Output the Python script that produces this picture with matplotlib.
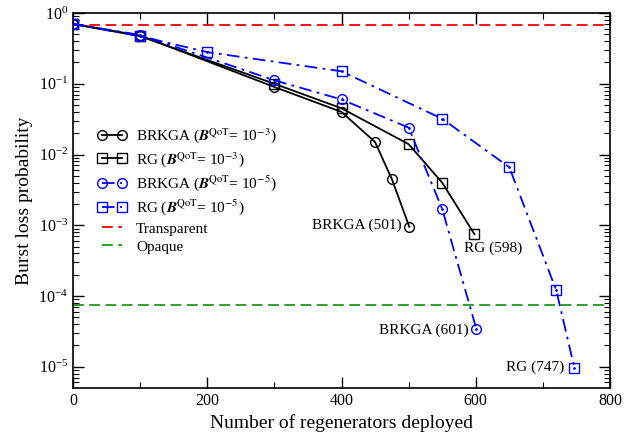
import numpy as np
import matplotlib
matplotlib.use("Agg")
import matplotlib.pyplot as plt
from matplotlib.ticker import LogLocator, MultipleLocator, NullFormatter

plt.rcParams['font.family'] = ['Liberation Serif', 'DejaVu Serif']
plt.rcParams['mathtext.fontset'] = 'stix'

# data
brkga3_x = [0, 100, 300, 400, 450, 475, 501]
brkga3_y = [0.70, 0.48, 0.090, 0.040, 0.015, 0.0045, 0.00095]
rg3_x = [0, 100, 300, 400, 500, 550, 598]
rg3_y = [0.70, 0.47, 0.100, 0.045, 0.014, 0.0040, 0.00075]
brkga5_x = [0, 100, 300, 400, 500, 550, 601]
brkga5_y = [0.70, 0.49, 0.112, 0.060, 0.024, 0.0017, 3.4e-5]
rg5_x = [0, 100, 200, 400, 550, 650, 720, 747]
rg5_y = [0.70, 0.47, 0.28, 0.150, 0.032, 0.0066, 0.00012, 9.6e-6]
transparent = 0.68
opaque = 7.5e-5

fig = plt.figure(figsize=(6.36, 4.38), dpi=100)
ax = fig.add_axes([73/636, 1 - 388/438, (610-73)/636, (388-13)/438])

ax.axhline(transparent, color='red', ls=(0, (6, 3)), lw=1.3, label='Transparent', zorder=1)
ax.axhline(opaque, color='#1a9a1a', ls=(0, (6, 3)), lw=1.3, label='Opaque', zorder=1)

ax.plot(brkga3_x, brkga3_y, color='black', lw=1.3, marker='o', ms=7, mfc='none', mew=1,
        label=r'BRKGA ($\boldsymbol{B}^{\mathrm{QoT}}$= 10$^{-3}$)', zorder=3)
ax.plot(rg3_x, rg3_y, color='black', lw=1.3, marker='s', ms=7, mfc='none', mew=1,
        label=r'RG ($\boldsymbol{B}^{\mathrm{QoT}}$= 10$^{-3}$)', zorder=3)
ax.plot(brkga5_x, brkga5_y, color='blue', lw=1.3, ls=(0, (7, 3, 1.5, 3)), marker='o', ms=7,
        mfc='none', mew=1, label=r'BRKGA ($\boldsymbol{B}^{\mathrm{QoT}}$= 10$^{-5}$)', zorder=3)
ax.plot(rg5_x, rg5_y, color='blue', lw=1.3, ls=(0, (7, 3, 1.5, 3)), marker='s', ms=7,
        mfc='none', mew=1, label=r'RG ($\boldsymbol{B}^{\mathrm{QoT}}$= 10$^{-5}$)', zorder=3)
# centre dots of blue markers
ax.plot(brkga5_x, brkga5_y, ls='none', marker='.', ms=2, color='blue', zorder=4)
ax.plot(rg5_x, rg5_y, ls='none', marker='.', ms=2, color='blue', zorder=4)

ax.set_yscale('log')
ax.set_xlim(0, 800)
ax.set_ylim(10**-5.3, 1)
ax.xaxis.set_major_locator(MultipleLocator(200))
ax.xaxis.set_minor_locator(MultipleLocator(100))
ax.yaxis.set_major_locator(LogLocator(base=10, numticks=10))
ax.yaxis.set_minor_locator(LogLocator(base=10, subs=np.arange(2, 10), numticks=20))
ax.yaxis.set_minor_formatter(NullFormatter())
ax.tick_params(which='both', direction='in', top=True, right=True, labelsize=11.5)
ax.tick_params(which='major', length=8, width=1)
ax.tick_params(which='minor', length=4, width=0.8)
for s in ax.spines.values():
    s.set_linewidth(1.2)

ax.set_xlabel('Number of regenerators deployed', fontsize=14)
ax.set_ylabel('Burst loss probability', fontsize=14)

ax.text(489, 1e-3, 'BRKGA (501)', ha='right', va='center', fontsize=11)
ax.text(583, 4.8e-4, 'RG (598)', ha='left', va='center', fontsize=11)
ax.text(590, 3.3e-5, 'BRKGA (601)', ha='right', va='center', fontsize=11)
ax.text(732, 1.0e-5, 'RG (747)', ha='right', va='center', fontsize=11)

h, l = ax.get_legend_handles_labels()
order = [2, 3, 4, 5, 0, 1]
ax.legend([h[i] for i in order], [l[i] for i in order], loc='upper left',
          bbox_to_anchor=(0.035, 0.714), frameon=False, fontsize=11, handlelength=1.9,
          numpoints=2, handletextpad=0.6, labelspacing=0.3, borderaxespad=0)

fig.savefig('out.png', dpi=100)
